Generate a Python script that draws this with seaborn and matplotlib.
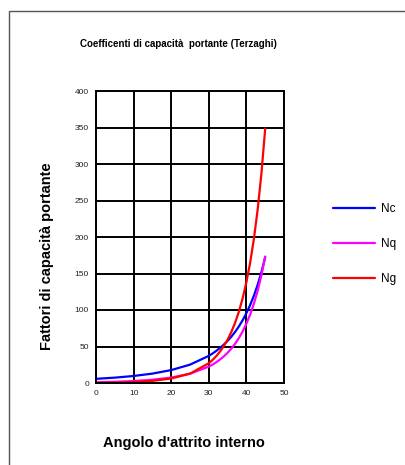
import matplotlib
matplotlib.use('Agg')
import matplotlib.pyplot as plt
import seaborn as sns
import pandas as pd
from matplotlib.patches import Rectangle

# Terzaghi bearing capacity factors
phi = [0, 5, 10, 15, 20, 25, 30, 31, 32, 33, 34, 35, 36, 37, 38, 39,
       40, 41, 42, 43, 44, 45]
nc = [5.70, 7.34, 9.61, 12.86, 17.69, 25.13, 37.16, 40.41, 44.04, 48.09,
      52.64, 57.75, 63.53, 70.01, 77.50, 85.97, 95.66, 106.81, 119.67,
      134.58, 151.95, 172.28]
nq = [1.00, 1.64, 2.69, 4.45, 7.44, 12.72, 22.46, 25.28, 28.52, 32.23,
      36.50, 41.44, 47.16, 53.80, 61.55, 70.61, 81.27, 93.85, 108.75,
      126.50, 147.74, 173.28]
ng = [0.0, 0.46, 1.30, 2.92, 6.14, 12.80, 27.09, 31.58, 36.89, 43.16,
      50.59, 59.43, 69.98, 82.59, 97.74, 115.98, 138.07, 164.91, 197.64,
      237.79, 287.28, 348.56]

series = {'Nc': nc, 'Nq': nq, 'Ng': ng}
colors = {'Nc': '#0000ff', 'Nq': '#ff00ff', 'Ng': '#ff0000'}

df = pd.concat([pd.DataFrame({'phi': phi, 'val': v, 'name': k})
                for k, v in series.items()], ignore_index=True)

sns.set_style('white')
plt.rcParams['font.family'] = ['Liberation Sans', 'DejaVu Sans']
plt.rcParams['text.color'] = 'black'

fig = plt.figure(figsize=(4.06, 4.65), dpi=100)
ax = fig.add_axes([96/406, 1-383/465, 188/406, 292/465])

sns.lineplot(data=df, x='phi', y='val', hue='name', palette=colors,
             linewidth=1.6, ax=ax, legend=False)

ax.set_xlim(0, 50)
ax.set_ylim(0, 400)
ax.set_xticks(range(0, 51, 10))
ax.set_yticks(range(0, 401, 50))
ax.grid(True, color='black', linewidth=1.4)
ax.set_axisbelow(True)
for s in ax.spines.values():
    s.set_color('black')
    s.set_linewidth(1.4)
    s.set_visible(True)
ax.tick_params(axis='both', direction='out', length=3, width=1,
               color='black', labelsize=6, labelcolor='#222222', pad=2)
ax.set_xlabel('')
ax.set_ylabel('')

fig.text(178/406, 1-44/465, 'Coefficenti di capacità  portante (Terzaghi)',
         ha='center', va='center', fontsize=7, fontweight='bold')
fig.text(47/406, 1-256/465, 'Fattori di capacità portante', rotation=90,
         ha='center', va='center', fontsize=10.5, fontweight='bold')
fig.text(184/406, 1-443/465, "Angolo d'attrito interno",
         ha='center', va='center', fontsize=10.5, fontweight='bold')

handles = [plt.Line2D([], [], color=colors[k], linewidth=1.6) for k in series]
fig.legend(handles, list(series.keys()), loc='center left',
           bbox_to_anchor=(322/406, 1-244/465), frameon=False, fontsize=8.5,
           handlelength=3.6, labelspacing=1.95, handletextpad=0.5,
           labelcolor='black')

# outer chart-area border
fig.patches.append(Rectangle((9/406, -0.1), 1.2, 1-11/465+0.1,
                             transform=fig.transFigure, fill=False,
                             edgecolor='#555555', linewidth=1))

fig.savefig('out.png', dpi=100)
plt.close()
